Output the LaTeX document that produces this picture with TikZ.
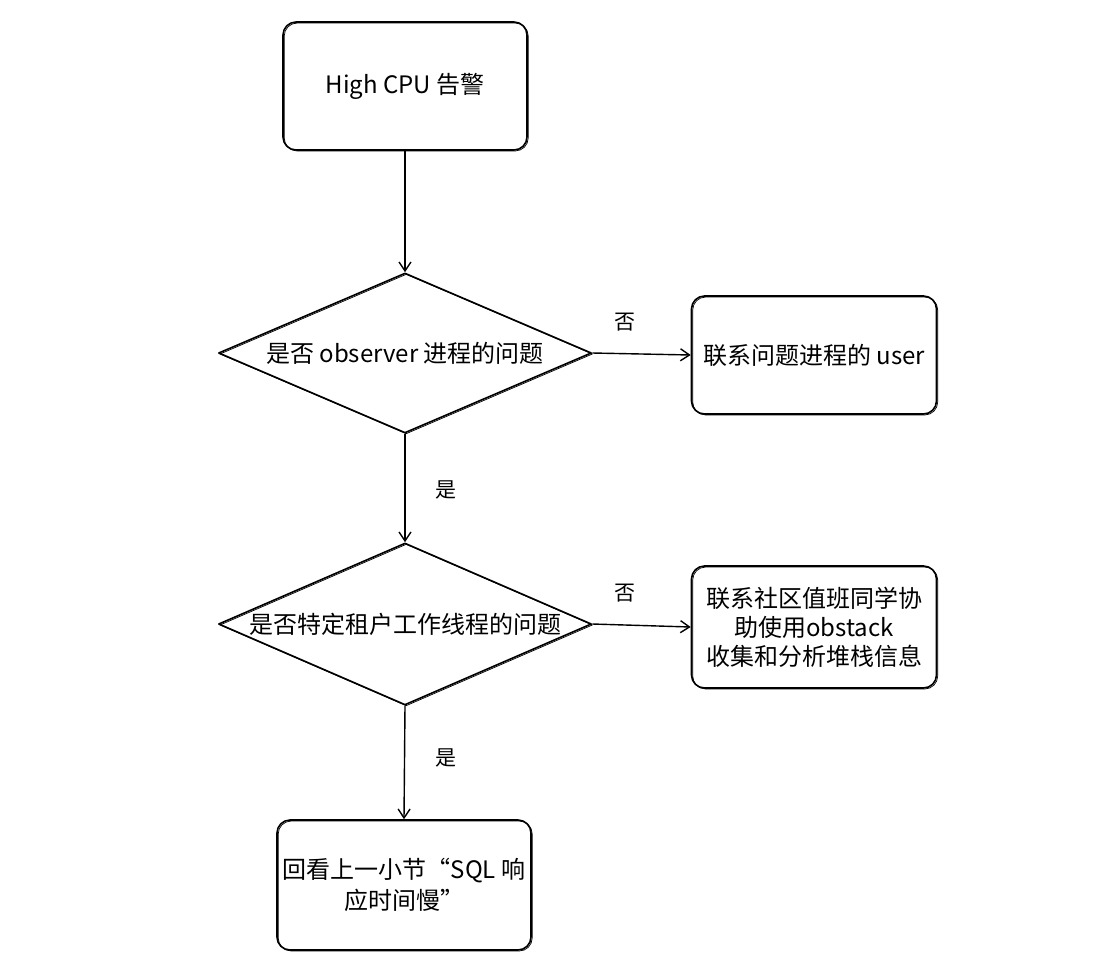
\documentclass[tikz,border=0pt]{standalone}
\usepackage{fontspec}
\setmainfont{Noto Sans CJK SC}
\usetikzlibrary{shapes.geometric,arrows.meta}
\begin{document}
\begin{tikzpicture}[x=1pt,y=-1pt,
  sketch/.style={draw=black, line width=1.6pt, line join=round,
    postaction={draw=black, line width=0.7pt, transform canvas={shift={(1.2pt,-1.0pt)}}}},
  procbox/.style={sketch, rounded corners=13pt, inner sep=0pt, align=center,
    font=\fontsize{24}{29}\selectfont},
  decision/.style={sketch, shape=diamond, aspect=2.33, inner sep=0pt,
    minimum width=373pt, minimum height=160pt, font=\fontsize{24}{29}\selectfont},
  conn/.style={draw=black, line width=1.4pt, -{Straight Barb[length=9pt,width=12pt,line width=1.4pt]}},
  lbl/.style={font=\fontsize{21}{26}\selectfont, inner sep=0pt}
]
\useasboundingbox (0,0) rectangle (1120,978);
\node[procbox, minimum width=244pt, minimum height=128pt] (b1) at (405,86) {High CPU 告警};
\node[decision] (d1) at (405,353) {是否 observer 进程的问题};
\node[procbox, minimum width=245pt, minimum height=118pt] (b2) at (814,355) {联系问题进程的 user};
\node[decision, minimum height=162pt] (d2) at (405,624) {是否特定租户工作线程的问题};
\node[procbox, minimum width=245pt, minimum height=122pt] (b3) at (814,627) {联系社区值班同学协\\助使用obstack\\收集和分析堆栈信息};
\node[procbox, minimum width=254pt, minimum height=130pt, font=\fontsize{24}{31}\selectfont] (b4) at (404,885) {回看上一小节“SQL 响\\应时间慢”};
\draw[conn] (b1.south) -- (d1.north);
\draw[conn] (d1.east) -- (b2.west);
\draw[conn] (d1.south) -- (d2.north);
\draw[conn] (d2.east) -- (b3.west);
\draw[conn] (d2.south) -- (b4.north);
\node[lbl] (n1) at (625,322) {否};
\node[lbl] (n2) at (625,593) {否};
\node[lbl] (y1) at (446,490) {是};
\node[lbl] (y2) at (446,758) {是};
\end{tikzpicture}
\end{document}
